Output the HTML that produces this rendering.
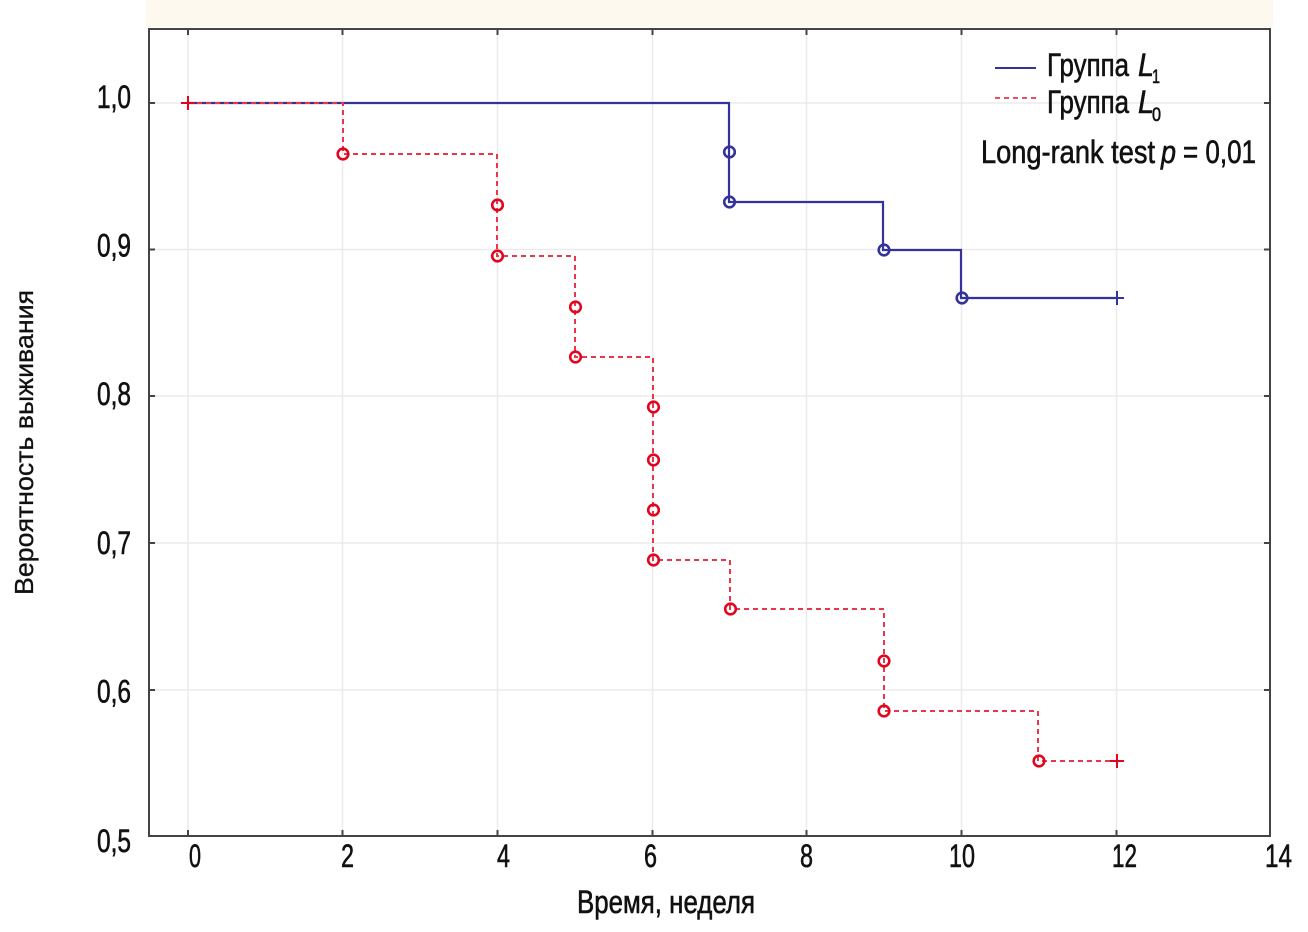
<!DOCTYPE html>
<html>
<head>
<meta charset="utf-8">
<style>
  html,body{margin:0;padding:0;background:#fff;}
  svg{display:block;}
  text{font-family:"Liberation Sans","DejaVu Sans",sans-serif;fill:#111;stroke:#111;stroke-width:0.6;}
</style>
</head>
<body>
<svg width="1308" height="932" viewBox="0 0 1308 932" xmlns="http://www.w3.org/2000/svg">
  <rect x="0" y="0" width="1308" height="932" fill="#ffffff"/>
  <!-- top cream band -->
  <rect x="146" y="0" width="1127" height="27" fill="#fdf9ef"/>

  <!-- grid -->
  <g stroke="#ebebeb" stroke-width="1.5">
    <line x1="188" y1="29" x2="188" y2="836"/>
    <line x1="342.5" y1="29" x2="342.5" y2="836"/>
    <line x1="497.5" y1="29" x2="497.5" y2="836"/>
    <line x1="652.5" y1="29" x2="652.5" y2="836"/>
    <line x1="806.5" y1="29" x2="806.5" y2="836"/>
    <line x1="961.5" y1="29" x2="961.5" y2="836"/>
    <line x1="1116.5" y1="29" x2="1116.5" y2="836"/>
    <line x1="149" y1="103" x2="1270" y2="103"/>
    <line x1="149" y1="249.5" x2="1270" y2="249.5"/>
    <line x1="149" y1="396" x2="1270" y2="396"/>
    <line x1="149" y1="543" x2="1270" y2="543"/>
    <line x1="149" y1="690" x2="1270" y2="690"/>
  </g>

  <!-- frame -->
  <rect x="149" y="29" width="1121" height="807" fill="none" stroke="#444" stroke-width="2"/>
  <!-- ticks -->
  <g stroke="#444" stroke-width="2">
    <line x1="188" y1="836" x2="188" y2="830"/><line x1="188" y1="29" x2="188" y2="35"/>
    <line x1="342.5" y1="836" x2="342.5" y2="830"/><line x1="342.5" y1="29" x2="342.5" y2="35"/>
    <line x1="497.5" y1="836" x2="497.5" y2="830"/><line x1="497.5" y1="29" x2="497.5" y2="35"/>
    <line x1="652.5" y1="836" x2="652.5" y2="830"/><line x1="652.5" y1="29" x2="652.5" y2="35"/>
    <line x1="806.5" y1="836" x2="806.5" y2="830"/><line x1="806.5" y1="29" x2="806.5" y2="35"/>
    <line x1="961.5" y1="836" x2="961.5" y2="830"/><line x1="961.5" y1="29" x2="961.5" y2="35"/>
    <line x1="1116.5" y1="836" x2="1116.5" y2="830"/><line x1="1116.5" y1="29" x2="1116.5" y2="35"/>
    <line x1="149" y1="103" x2="155" y2="103"/><line x1="1270" y1="103" x2="1264" y2="103"/>
    <line x1="149" y1="249.5" x2="155" y2="249.5"/><line x1="1270" y1="249.5" x2="1264" y2="249.5"/>
    <line x1="149" y1="396" x2="155" y2="396"/><line x1="1270" y1="396" x2="1264" y2="396"/>
    <line x1="149" y1="543" x2="155" y2="543"/><line x1="1270" y1="543" x2="1264" y2="543"/>
    <line x1="149" y1="690" x2="155" y2="690"/><line x1="1270" y1="690" x2="1264" y2="690"/>
  </g>

  <!-- y tick labels -->
  <g font-size="32" text-anchor="end">
    <text x="131" y="108" textLength="34" lengthAdjust="spacingAndGlyphs">1,0</text>
    <text x="131" y="256.5" textLength="34" lengthAdjust="spacingAndGlyphs">0,9</text>
    <text x="131" y="405" textLength="34" lengthAdjust="spacingAndGlyphs">0,8</text>
    <text x="131" y="554" textLength="34" lengthAdjust="spacingAndGlyphs">0,7</text>
    <text x="131" y="702.5" textLength="34" lengthAdjust="spacingAndGlyphs">0,6</text>
    <text x="131" y="852" textLength="34" lengthAdjust="spacingAndGlyphs">0,5</text>
  </g>
  <!-- x tick labels -->
  <g font-size="32">
    <text x="189" y="867" textLength="12" lengthAdjust="spacingAndGlyphs">0</text>
    <text x="341" y="867" textLength="13" lengthAdjust="spacingAndGlyphs">2</text>
    <text x="497" y="867" textLength="13" lengthAdjust="spacingAndGlyphs">4</text>
    <text x="644" y="867" textLength="13" lengthAdjust="spacingAndGlyphs">6</text>
    <text x="800" y="867" textLength="13" lengthAdjust="spacingAndGlyphs">8</text>
    <text x="949" y="867" textLength="26" lengthAdjust="spacingAndGlyphs">10</text>
    <text x="1112" y="867" textLength="25" lengthAdjust="spacingAndGlyphs">12</text>
    <text x="1265" y="867" textLength="27" lengthAdjust="spacingAndGlyphs">14</text>
  </g>

  <!-- axis titles -->
  <text x="577" y="913" font-size="32" textLength="178" lengthAdjust="spacingAndGlyphs">Время, неделя</text>
  <text transform="translate(33,595) rotate(-90)" font-size="26" textLength="305" lengthAdjust="spacingAndGlyphs" style="stroke-width:0.3">Вероятность выживания</text>

  <!-- blue series -->
  <path d="M188,103 H729 V202 H883 V250 H961 V298 H1117" fill="none" stroke="#33339a" stroke-width="2.2"/>
  <g fill="none" stroke="#33339a" stroke-width="2.6">
    <circle cx="729.5" cy="152" r="5.3"/>
    <circle cx="729.5" cy="202" r="5.3"/>
    <circle cx="884" cy="250" r="5.3"/>
    <circle cx="962" cy="298" r="5.3"/>
  </g>
  <path d="M1117,291 V305 M1110,298 H1124" stroke="#33339a" stroke-width="2"/>

  <!-- red series -->
  <path d="M188,103 H343 V154 H497 V256 H575 V357 H653 V560 H730 V609 H884 V711 H1038 V761 H1117" fill="none" stroke="#e8374c" stroke-width="2" stroke-dasharray="5,4"/>
  <g fill="none" stroke="#e2051f" stroke-width="2.6">
    <circle cx="343" cy="154" r="5.3"/>
    <circle cx="497.5" cy="205" r="5.3"/>
    <circle cx="497.5" cy="256" r="5.3"/>
    <circle cx="575.5" cy="307" r="5.3"/>
    <circle cx="575.5" cy="357" r="5.3"/>
    <circle cx="653.5" cy="407" r="5.3"/>
    <circle cx="653.5" cy="460" r="5.3"/>
    <circle cx="653.5" cy="510" r="5.3"/>
    <circle cx="653.5" cy="560" r="5.3"/>
    <circle cx="730.5" cy="609" r="5.3"/>
    <circle cx="884" cy="661" r="5.3"/>
    <circle cx="884" cy="711" r="5.3"/>
    <circle cx="1039" cy="761" r="5.3"/>
  </g>
  <path d="M188,96 V110 M181,103 H195" stroke="#e2051f" stroke-width="2"/>
  <path d="M1117,754 V768 M1110,761 H1124" stroke="#e2051f" stroke-width="2"/>

  <!-- legend -->
  <line x1="995" y1="68" x2="1036" y2="68" stroke="#33339a" stroke-width="2"/>
  <line x1="995" y1="98" x2="1036" y2="98" stroke="#e8374c" stroke-width="1.8" stroke-dasharray="5,4"/>
  <text x="1047" y="76" font-size="32" textLength="82" lengthAdjust="spacingAndGlyphs">Группа</text>
  <text x="1138" y="76" font-size="32" font-style="italic" textLength="16" lengthAdjust="spacingAndGlyphs">L</text>
  <text x="1152" y="83" font-size="19" textLength="8" lengthAdjust="spacingAndGlyphs">1</text>
  <text x="1047" y="113" font-size="32" textLength="82" lengthAdjust="spacingAndGlyphs">Группа</text>
  <text x="1138" y="113" font-size="32" font-style="italic" textLength="16" lengthAdjust="spacingAndGlyphs">L</text>
  <text x="1152" y="121" font-size="19" textLength="9" lengthAdjust="spacingAndGlyphs">0</text>
  <text x="981" y="163" font-size="32" textLength="174" lengthAdjust="spacingAndGlyphs">Long-rank test</text>
  <text x="1161" y="163" font-size="32" font-style="italic" textLength="15" lengthAdjust="spacingAndGlyphs">p</text>
  <text x="1183" y="163" font-size="32" textLength="73" lengthAdjust="spacingAndGlyphs">= 0,01</text>
</svg>
</body>
</html>
